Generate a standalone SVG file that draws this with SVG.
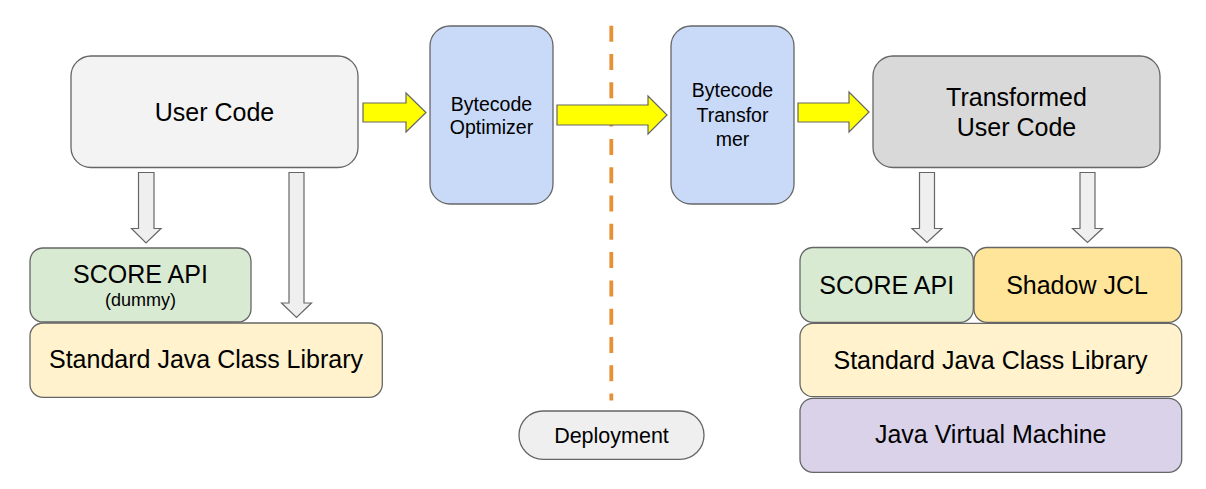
<svg xmlns="http://www.w3.org/2000/svg" width="1206" height="489" viewBox="0 0 1206 489">
<style>
text{font-family:"Liberation Sans",Arial,sans-serif;fill:#000;text-anchor:middle}
.box{stroke:#666;stroke-width:1.3}
.ya{fill:#ffff00;stroke:#666;stroke-width:1.2}
.ga{fill:#efefef;stroke:#666;stroke-width:1.2}
.big{font-size:25px}
.mid{font-size:19.5px}
</style>
<rect width="1206" height="489" fill="#fff"/>
<line x1="611.3" y1="25.7" x2="611.3" y2="400.5" stroke="#e69138" stroke-width="3.8" stroke-dasharray="16 12.3"/>
<g id="connectors">
<polygon class="ya" points="363,103 406,103 406,93 426,112.5 406,132 406,122 363,122"/>
<polygon class="ya" points="557,105 648,105 648,96 667,115 648,134 648,125 557,125"/>
<polygon class="ya" points="798,103 849,103 849,92 869,112 849,132 849,122 798,122"/>
<polygon class="ga" points="138.5,172.5 154,172.5 154,228.5 161,228.5 146,243 131.5,228.5 138.5,228.5"/>
<polygon class="ga" points="289,172.5 304,172.5 304,303 311.5,303 296.5,317.5 281.5,303 289,303"/>
<polygon class="ga" points="919.5,172.5 934.5,172.5 934.5,228.5 942,228.5 927,242.5 912,228.5 919.5,228.5"/>
<polygon class="ga" points="1080,172.5 1095,172.5 1095,228.5 1102.5,228.5 1087.5,242.5 1072.5,228.5 1080,228.5"/>
</g>
<g id="user-code">
<rect class="box" x="71" y="56" width="287" height="111.5" rx="20" fill="#f3f3f3"/>
<text class="big" x="214.5" y="121">User Code</text>
</g>
<g id="bytecode-optimizer">
<rect class="box" x="430" y="26" width="123" height="178" rx="20" fill="#c9daf8"/>
<text class="mid" x="491.5" y="110.7">Bytecode</text>
<text class="mid" x="491.5" y="134.3">Optimizer</text>
</g>
<g id="bytecode-transformer">
<rect class="box" x="671" y="26" width="123" height="178" rx="20" fill="#c9daf8"/>
<text class="mid" x="732.5" y="97.3">Bytecode</text>
<text class="mid" x="732.5" y="121.5">Transfor</text>
<text class="mid" x="732.5" y="145.5">mer</text>
</g>
<g id="transformed-user-code">
<rect class="box" x="873" y="56" width="287" height="111.5" rx="20" fill="#d9d9d9"/>
<text class="big" x="1016.5" y="106">Transformed</text>
<text class="big" x="1016.5" y="136">User Code</text>
</g>
<g id="score-api-dummy">
<rect class="box" x="30" y="248" width="221" height="74" rx="13" fill="#d9ead3"/>
<text class="big" x="140.5" y="283.3">SCORE API</text>
<text x="140.5" y="305.5" font-size="18">(dummy)</text>
</g>
<g id="jcl-left">
<rect class="box" x="30" y="323" width="352.3" height="74.3" rx="13" fill="#fff2cc"/>
<text class="big" x="206" y="368.3">Standard Java Class Library</text>
</g>
<g id="score-api">
<rect class="box" x="800" y="247.5" width="173.3" height="74.8" rx="13" fill="#d9ead3"/>
<text class="big" x="886.7" y="294">SCORE API</text>
</g>
<g id="shadow-jcl">
<rect class="box" x="974" y="247.5" width="207.7" height="74.8" rx="13" fill="#ffe599"/>
<text class="big" x="1077" y="294">Shadow JCL</text>
</g>
<g id="jcl-right">
<rect class="box" x="800" y="323.3" width="381.7" height="73.4" rx="13" fill="#fff2cc"/>
<text class="big" x="990.5" y="369">Standard Java Class Library</text>
</g>
<g id="jvm">
<rect class="box" x="800" y="398.3" width="381.7" height="74" rx="13" fill="#d9d2e9"/>
<text class="big" x="990.7" y="443.3">Java Virtual Machine</text>
</g>
<g id="deployment">
<rect class="box" x="519" y="411" width="185" height="48.3" rx="24" fill="#efefef"/>
<text x="611.5" y="443.3" font-size="21.5">Deployment</text>
</g>
</svg>
